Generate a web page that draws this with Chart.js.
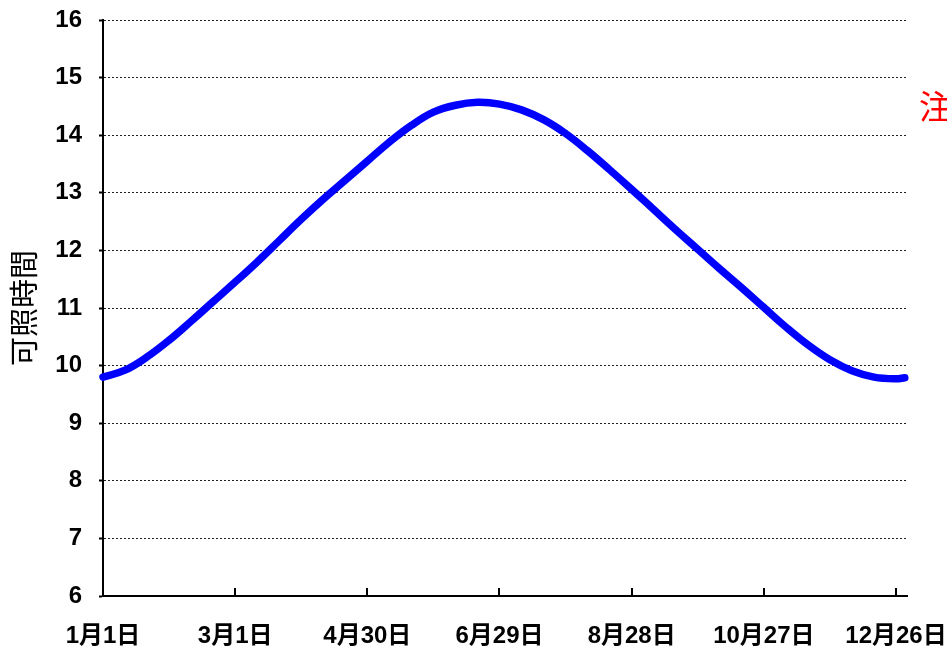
<!DOCTYPE html>
<html lang="ja">
<head>
<meta charset="utf-8">
<script src="https://cdn.jsdelivr.net/npm/chart.js@4/dist/chart.umd.min.js"></script>
<style>
  html, body { margin: 0; padding: 0; background: #fff; }
  #wrap { width: 947px; height: 647px; }
</style>
</head>
<body>
<div id="wrap"><canvas id="chartDaylight" width="947" height="647"></canvas></div>
<script>
// 日数（1月1日 = 0）
const days = [0, 10, 20, 30, 40, 50, 60, 70, 80, 90, 100, 110, 120, 130, 140, 150, 160, 170, 180,
  190, 200, 210, 220, 230, 240, 250, 260, 270, 280, 290, 300, 310, 320, 330, 340, 350, 360, 364];
// 可照時間
const hours = [9.80, 9.92, 10.15, 10.44, 10.77, 11.11, 11.45, 11.80, 12.17, 12.54, 12.89, 13.22, 13.55, 13.88, 14.17,
  14.40, 14.52, 14.57, 14.54, 14.44, 14.27, 14.03, 13.73, 13.40, 13.06, 12.71, 12.36, 12.02, 11.68, 11.35,
  11.01, 10.67, 10.36, 10.10, 9.91, 9.80, 9.77, 9.79];
const tickDays = [0, 60, 120, 180, 240, 300, 360];
const tickLabels = ["1月1日", "3月1日", "4月30日", "6月29日", "8月28日", "10月27日", "12月26日"];

const tickFont = { family: "'Liberation Sans', 'Noto Sans CJK JP'", size: 24, weight: "bold" };

// x軸の内向き目盛と「注」
const extras = {
  id: "extras",
  afterDraw(chart) {
    const ctx = chart.ctx;
    const x = chart.scales.x;
    const area = chart.chartArea;
    ctx.save();
    ctx.strokeStyle = "#000";
    ctx.lineWidth = 2;
    tickDays.forEach(d => {
      if (d === 0) return;
      const px = Math.round(x.getPixelForValue(d));
      ctx.beginPath();
      ctx.moveTo(px, area.bottom);
      ctx.lineTo(px, area.bottom - 8);
      ctx.stroke();
    });
    ctx.fillStyle = "#ff0000";
    ctx.font = "33px 'Noto Sans CJK JP'";
    ctx.textBaseline = "middle";
    ctx.fillText("注", 919, 106);
    ctx.restore();
  }
};

new Chart(document.getElementById("chartDaylight"), {
  type: "line",
  data: {
    datasets: [{
      data: days.map((d, i) => ({ x: d, y: hours[i] })),
      borderColor: "#0000ff",
      borderWidth: 7.5,
      borderCapStyle: "round",
      borderJoinStyle: "round",
      pointRadius: 0,
      tension: 0.4,
      clip: false
    }]
  },
  options: {
    responsive: false,
    animation: false,
    layout: { padding: { top: 20, right: 40, left: 0, bottom: 0 } },
    plugins: { legend: { display: false }, tooltip: { enabled: false } },
    scales: {
      x: {
        type: "linear",
        min: 0,
        max: 365,
        afterBuildTicks: s => { s.ticks = tickDays.map(v => ({ value: v })); },
        afterFit: s => { s.height = 51; s.paddingLeft = 0; s.paddingRight = 0; },
        grid: { drawOnChartArea: false, drawTicks: false },
        border: { color: "#000", width: 2 },
        ticks: {
          font: tickFont,
          color: "#000",
          padding: 26,
          maxRotation: 0,
          autoSkip: false,
          callback: v => tickLabels[tickDays.indexOf(v)]
        }
      },
      y: {
        min: 6,
        max: 16,
        afterFit: s => { s.width = 103; s.paddingTop = 0; s.paddingBottom = 0; },
        grid: { color: "#222", lineWidth: 1, drawTicks: true, tickLength: 4, tickWidth: 2, tickColor: "#000" },
        border: { color: "#000", width: 2, dash: [2, 2] },
        ticks: { stepSize: 1, font: tickFont, color: "#000", padding: 17 },
        title: {
          display: true,
          text: "可照時間",
          color: "#000",
          font: { family: "'Noto Sans CJK JP'", size: 29 },
          padding: { top: 7, bottom: 0 }
        }
      }
    }
  },
  plugins: [extras]
});
</script>
</body>
</html>
